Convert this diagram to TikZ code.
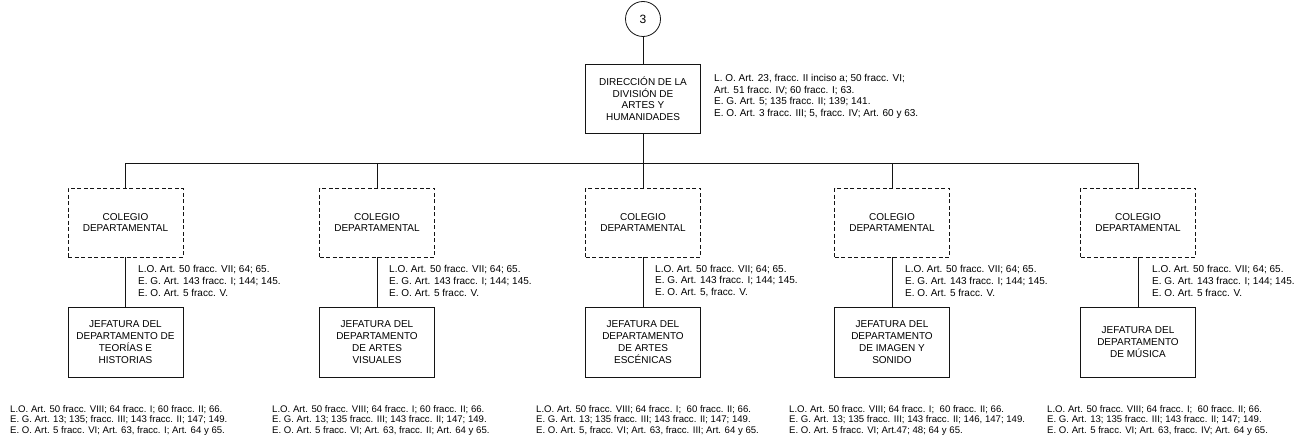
\documentclass[tikz,border=0pt]{standalone}
\usepackage{fontspec}
\setsansfont{Liberation Sans}
\usepackage{xcolor}
\definecolor{linegray}{RGB}{20,20,20}
\usepackage{tikz}

\begin{document}
\begin{tikzpicture}[
  x=1pt, y=-1pt,
  font=\sffamily,
  % --- chart style: edit visual look here -----------------------------
  numcircle/.style={circle, draw=linegray, line width=0.8pt, minimum size=35pt,
                    inner sep=0pt, font=\sffamily\fontsize{12}{14}\selectfont},
  headbox/.style={draw=linegray, line width=0.8pt, minimum width=115pt,
                  minimum height=69pt, align=center, inner sep=1pt,
                  font=\sffamily\fontsize{10}{11.5}\selectfont},
  colbox/.style={draw=linegray, line width=0.8pt, dash pattern=on 4pt off 2.5pt,
                 minimum width=115pt, minimum height=69pt, align=center,
                 inner sep=1pt, font=\sffamily\fontsize{10}{11.8}\selectfont},
  deptbox/.style={draw=linegray, line width=0.8pt, minimum width=115pt,
                  minimum height=70pt, align=center, inner sep=1pt,
                  font=\sffamily\fontsize{10}{12.2}\selectfont},
  lawnote/.style={anchor=west, align=left, inner sep=0pt,
                  font=\sffamily\fontsize{10}{11.6}\selectfont},
  lawfoot/.style={anchor=west, align=left, inner sep=0pt,
                  font=\sffamily\fontsize{9.6}{10.6}\selectfont},
  conn/.style={linegray, line width=0.8pt},
  % ---------------------------------------------------------------------
]
  \useasboundingbox (0,0) rectangle (1305,444);

  % Tier 1 — division
  \node[numcircle] (num) at (643,19) {3};
  \node[headbox] (top) at (643,98.5) {DIRECCIÓN DE LA\\DIVISIÓN DE\\ARTES Y\\HUMANIDADES};
  \node[lawnote] (topnote) at (714,96.3) {L. O. Art. 23, fracc. II inciso a; 50 fracc. VI;\\
    Art. 51 fracc. IV; 60 fracc. I; 63.\\
    E. G. Art. 5; 135 fracc. II; 139; 141.\\
    E. O. Art. 3 fracc. III; 5, fracc. IV; Art. 60 y 63.};
  \coordinate (bus) at (643,163);

  % Tier 2 — colegios departamentales
  \node[colbox] (c1) at (125.5,222.5) {COLEGIO\\DEPARTAMENTAL};
  \node[colbox] (c2) at (377,222.5)   {COLEGIO\\DEPARTAMENTAL};
  \node[colbox] (c3) at (643,222.5)   {COLEGIO\\DEPARTAMENTAL};
  \node[colbox] (c4) at (892,222.5)   {COLEGIO\\DEPARTAMENTAL};
  \node[colbox] (c5) at (1138,222.5)  {COLEGIO\\DEPARTAMENTAL};

  % Tier 3 — jefaturas
  \node[deptbox] (j1) at (125.5,342) {JEFATURA DEL\\DEPARTAMENTO DE\\TEORÍAS E\\HISTORIAS};
  \node[deptbox] (j2) at (377,342)   {JEFATURA DEL\\DEPARTAMENTO\\DE ARTES\\VISUALES};
  \node[deptbox] (j3) at (643,342)   {JEFATURA DEL\\DEPARTAMENTO\\DE ARTES\\ESCÉNICAS};
  \node[deptbox] (j4) at (892,342)   {JEFATURA DEL\\DEPARTAMENTO\\DE IMAGEN Y\\SONIDO};
  \node[deptbox] (j5) at (1138,342)  {JEFATURA DEL\\DEPARTAMENTO\\DE MÚSICA};

  % Notes beside the colegio links
  \node[lawnote] (m1) at (138,281) {L.O. Art. 50 fracc. VII; 64; 65.\\E. G. Art. 143 fracc. I; 144; 145.\\E. O. Art. 5 fracc. V.};
  \node[lawnote] (m2) at (389,281) {L.O. Art. 50 fracc. VII; 64; 65.\\E. G. Art. 143 fracc. I; 144; 145.\\E. O. Art. 5 fracc. V.};
  \node[lawnote] (m3) at (655,281) {L.O. Art. 50 fracc. VII; 64; 65.\\E. G. Art. 143 fracc. I; 144; 145.\\E. O. Art. 5, fracc. V.};
  \node[lawnote] (m4) at (905,281) {L.O. Art. 50 fracc. VII; 64; 65.\\E. G. Art. 143 fracc. I; 144; 145.\\E. O. Art. 5 fracc. V.};
  \node[lawnote] (m5) at (1152,281) {L.O. Art. 50 fracc. VII; 64; 65.\\E. G. Art. 143 fracc. I; 144; 145.\\E. O. Art. 5 fracc. V.};

  % Notes under the jefaturas
  \node[lawfoot] (f1) at (10,420.5) {L.O. Art. 50 fracc. VIII; 64 fracc. I; 60 fracc. II; 66.\\E. G. Art. 13; 135; fracc. III; 143 fracc. II; 147; 149.\\E. O. Art. 5 fracc. VI; Art. 63, fracc. I; Art. 64 y 65.};
  \node[lawfoot] (f2) at (272,420.5) {L.O. Art. 50 fracc. VIII; 64 fracc. I; 60 fracc. II; 66.\\E. G. Art. 13; 135 fracc. III; 143 fracc. II; 147; 149.\\E. O. Art. 5 fracc. VI; Art. 63, fracc. II; Art. 64 y 65.};
  \node[lawfoot] (f3) at (536,420.5) {L.O. Art. 50 fracc. VIII; 64 fracc. I;\ \ 60 fracc. II; 66.\\E. G. Art. 13; 135 fracc. III; 143 fracc. II; 147; 149.\\E. O. Art. 5, fracc. VI; Art. 63, fracc. III; Art. 64 y 65.};
  \node[lawfoot] (f4) at (789,420.5) {L.O. Art. 50 fracc. VIII; 64 fracc. I;\ \ 60 fracc. II; 66.\\E. G. Art. 13; 135 fracc. III; 143 fracc. II; 146, 147; 149.\\E. O. Art. 5 fracc. VI; Art.47; 48; 64 y 65.};
  \node[lawfoot] (f5) at (1047,420.5) {L.O. Art. 50 fracc. VIII; 64 fracc. I;\ \ 60 fracc. II; 66.\\E. G. Art. 13; 135 fracc. III; 143 fracc. II; 147; 149.\\E. O. Art. 5 fracc. VI; Art. 63, fracc. IV; Art. 64 y 65.};

  % Connectors
  \draw[conn] (num.south) -- (top.north);
  \draw[conn] (top.south) -- (bus);
  \draw[conn] (bus) -| (c1.north);
  \draw[conn] (bus) -| (c2.north);
  \draw[conn] (bus) -| (c3.north);
  \draw[conn] (bus) -| (c4.north);
  \draw[conn] (bus) -| (c5.north);

  \draw[conn] (c1.south) -- (j1.north);
  \draw[conn] (c2.south) -- (j2.north);
  \draw[conn] (c3.south) -- (j3.north);
  \draw[conn] (c4.south) -- (j4.north);
  \draw[conn] (c5.south) -- (j5.north);
\end{tikzpicture}
\end{document}
